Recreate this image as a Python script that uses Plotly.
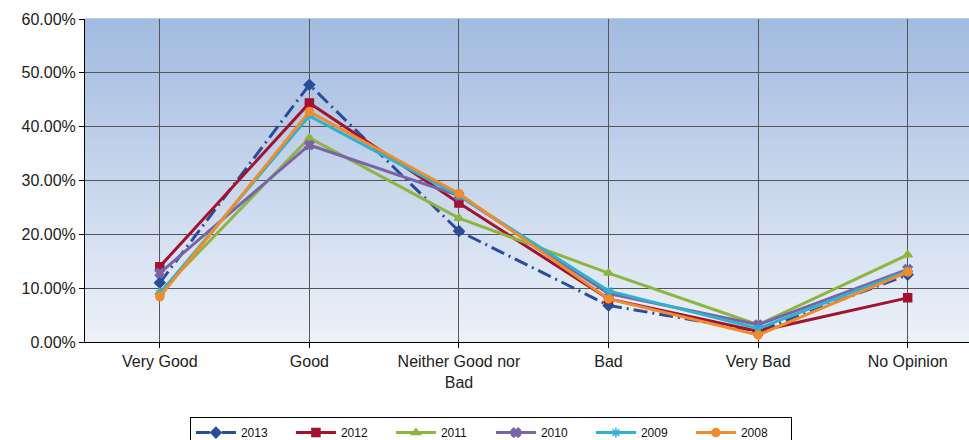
import plotly.graph_objects as go

categories = ["Very Good", "Good", "Neither Good nor<br>Bad", "Bad", "Very Bad", "No Opinion"]
years = ["2013", "2012", "2011", "2010", "2009", "2008"]
v2013 = [0.110, 0.478, 0.206, 0.068, 0.020, 0.125]
v2012 = [0.140, 0.444, 0.258, 0.080, 0.020, 0.082]
v2011 = [0.092, 0.379, 0.230, 0.128, 0.032, 0.162]
v2010 = [0.128, 0.366, 0.272, 0.090, 0.032, 0.135]
v2009 = [0.090, 0.420, 0.272, 0.095, 0.025, 0.132]
v2008 = [0.084, 0.428, 0.276, 0.080, 0.013, 0.130]
series = [v2013, v2012, v2011, v2010, v2009, v2008]
y_ticks = [0, 0.1, 0.2, 0.3, 0.4, 0.5, 0.6]

colors = ["#2b4c9b", "#a3122e", "#8db53f", "#7b63a9", "#2fb2cf", "#f28b2a"]
symbols = ["diamond", "square", "triangle-up", "x", "asterisk", "circle"]
dashes = ["14px,5px,2px,5px", "solid", "solid", "solid", "solid", "solid"]

fig = go.Figure()
for name, vals, c, s, d in zip(years, series, colors, symbols, dashes):
    fig.add_trace(go.Scatter(
        x=list(range(len(categories))), y=vals, name=name, mode="lines+markers",
        line=dict(color=c, width=3, dash=d),
        marker=dict(symbol=s, size=8, color=c, line=dict(color=c, width=1.5)),
    ))

# gradient background bands
n = 60
top = (162, 187, 224)
bot = (236, 241, 249)
shapes = []
for i in range(n):
    t = i / (n - 1)
    col = tuple(int(round(top[k] + (bot[k] - top[k]) * t)) for k in range(3))
    y1 = 1 - i / n
    y0 = 1 - (i + 1) / n
    shapes.append(dict(type="rect", xref="x domain", yref="y domain",
                       x0=0, x1=1, y0=y0, y1=y1 + 0.002, layer="below",
                       line=dict(width=0), fillcolor="rgb(%d,%d,%d)" % col))

fig.update_layout(
    width=969, height=440,
    margin=dict(l=85, r=0, t=19, b=98, autoexpand=False),
    paper_bgcolor="white", plot_bgcolor="rgba(0,0,0,0)",
    font=dict(family="Liberation Sans, Arial, sans-serif", size=16, color="#222"),
    shapes=shapes,
    showlegend=True,
    legend=dict(orientation="h", xref="container", yref="container",
                x=0.196, xanchor="left", y=0.052, yanchor="top",
                bordercolor="black", borderwidth=1, bgcolor="white",
                font=dict(size=12, color="#111"),
                itemwidth=40, entrywidth=45, entrywidthmode="pixels"),
)
fig.update_xaxes(
    tickmode="array", tickvals=list(range(len(categories))), ticktext=categories,
    range=[-0.5, 5.41], tickson="boundaries", automargin=False, zeroline=False,
    showgrid=True, gridcolor="#555", gridwidth=1,
    showline=True, linecolor="black", linewidth=1,
    ticks="outside", ticklen=5, tickcolor="black",
)
fig.update_yaxes(
    range=[0, 0.6], tickvals=y_ticks, tickformat=".2%", automargin=False,
    showgrid=True, gridcolor="#555", gridwidth=1,
    showline=True, linecolor="black", linewidth=1,
    ticks="outside", ticklen=5, tickcolor="black", zeroline=False,
)

fig.write_html("out.html", config={"displayModeBar": False},
               post_script="document.body.style.margin='0px';document.body.style.overflow='hidden';")
